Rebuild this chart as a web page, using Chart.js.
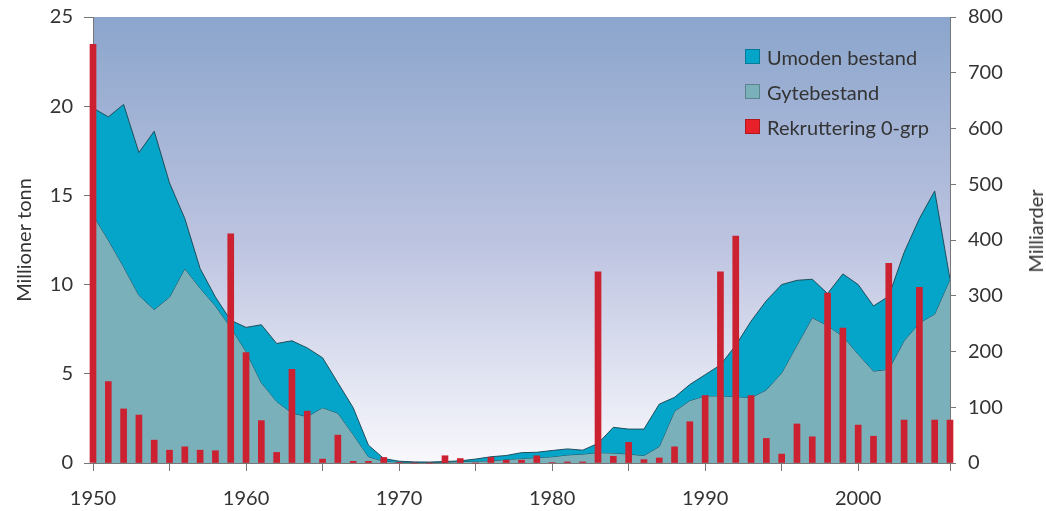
<!DOCTYPE html>
<html lang="no">
<head>
  <meta charset="UTF-8">
  <title>Bestand og rekruttering</title>
  <script src="https://cdn.jsdelivr.net/npm/chart.js"></script>
  <style>
    body { margin: 0; background: #fff; font-family: Lato, sans-serif; }
    #wrap { position: relative; width: 1046px; height: 511px; }
    #legend { position: absolute; left: 745px; top: 39px; color: #333; font-size: 20px; }
    .item { display: flex; align-items: center; height: 35px; }
    .box { width: 15px; height: 15px; margin-right: 7px; box-sizing: border-box; border: 1px solid rgba(0,0,0,0.25); }
    #rightTitle { position: absolute; left: 1035px; top: 231px; color: #333; font-size: 20px;
      transform: translate(-50%, -50%) rotate(-90deg); white-space: nowrap; }
  </style>
</head>
<body>
  <div id="wrap">
    <canvas id="chart" width="1046" height="511"></canvas>
    <div id="legend"></div>
    <div id="rightTitle">Milliarder</div>
  </div>

  <script>
    // år 1950-2006
    const years = [];
    for (let y = 1950; y <= 2006; y++) years.push(y);

    // millioner tonn, øvre kant = gytebestand + umoden bestand
    const totalBestand = [
      19.9, 19.4, 20.1, 17.4, 18.6, 15.7, 13.7, 10.9, 9.3, 8.0,
      7.6, 7.75, 6.7, 6.85, 6.45, 5.9, 4.5, 3.1, 1.0, 0.25,
      0.1, 0.06, 0.05, 0.08, 0.12, 0.22, 0.35, 0.42, 0.58, 0.6,
      0.7, 0.79, 0.72, 1.1, 2.0, 1.9, 1.9, 3.3, 3.68, 4.4,
      4.95, 5.5, 6.6, 7.95, 9.1, 10.0, 10.24, 10.3, 9.5, 10.6,
      10.0, 8.8, 9.35, 11.8, 13.7, 15.25, 10.3
    ];
    const gytebestand = [
      13.9, 12.5, 11.0, 9.4, 8.6, 9.3, 10.9, 9.8, 8.8, 7.6,
      6.25, 4.5, 3.45, 2.8, 2.6, 3.1, 2.8, 1.6, 0.35, 0.1,
      0.05, 0.03, 0.03, 0.05, 0.08, 0.1, 0.12, 0.2, 0.25, 0.3,
      0.35, 0.45, 0.5, 0.58, 0.56, 0.5, 0.42, 0.92, 2.9, 3.5,
      3.76, 3.76, 3.72, 3.66, 4.1, 5.05, 6.6, 8.15, 7.7, 7.1,
      6.1, 5.15, 5.25, 6.85, 7.85, 8.35, 10.3
    ];
    // milliarder individer
    const rekruttering = [
      751, 146, 97, 86, 41, 23, 29, 23, 22, 411,
      198, 76, 19, 168, 93, 7, 50, 3, 3, 10,
      1, 0, 0, 13, 8, 0, 10, 5, 5, 13,
      1, 2, 2, 343, 12, 37, 6, 9, 29, 74,
      121, 343, 407, 121, 44, 16, 70, 47, 305, 242,
      68, 48, 358, 77, 315, 77, 77
    ];

    const colUmoden = '#05a4c9';
    const colGyte = '#7ab0ba';
    const colRekr = '#cc2130';
    const font = { family: 'Lato, sans-serif', size: 20 };

    const pts = arr => years.map((y, i) => ({ x: y, y: arr[i] }));

    const bgPlugin = {
      id: 'bg',
      beforeDraw(chart) {
        const { ctx, chartArea: a } = chart;
        const g = ctx.createLinearGradient(0, a.top, 0, a.bottom);
        g.addColorStop(0, '#8ba5cc');
        g.addColorStop(0.5, '#bcc3e0');
        g.addColorStop(1, '#f8f8fc');
        ctx.save();
        ctx.fillStyle = g;
        ctx.fillRect(a.left, a.top, a.right - a.left, a.bottom - a.top);
        ctx.restore();
      }
    };

    const datasets = [
      { type: 'line', label: 'Gytebestand', data: pts(gytebestand), yAxisID: 'y',
        borderColor: '#1f4f5c', borderWidth: 1, backgroundColor: colGyte,
        fill: 'origin', pointRadius: 0, tension: 0, order: 3 },
      { type: 'line', label: 'Umoden bestand', data: pts(totalBestand), yAxisID: 'y',
        borderColor: '#1f4f5c', borderWidth: 1, backgroundColor: colUmoden,
        fill: '-1', pointRadius: 0, tension: 0, order: 2 },
      { type: 'bar', label: 'Rekruttering 0-grp', data: pts(rekruttering), yAxisID: 'y1',
        backgroundColor: colRekr, barThickness: 6, clip: false, order: 1 }
    ];

    new Chart(document.getElementById('chart'), {
      type: 'line',
      data: { datasets },
      options: {
        responsive: false,
        animation: false,
        layout: { padding: { top: 17, left: 0, right: 0, bottom: 0 } },
        plugins: { legend: { display: false }, tooltip: { enabled: false } },
        scales: {
          x: {
            type: 'linear', min: 1950, max: 2006, offset: false,
            grid: { drawOnChartArea: false, offset: false, tickLength: 8, color: '#777' },
            border: { color: '#777' },
            ticks: {
              stepSize: 5, autoSkip: false, maxRotation: 0, font, color: '#333', padding: 16,
              callback: v => (v % 10 === 0 ? String(v) : '')
            },
            afterFit: s => { s.height = 48; }
          },
          y: {
            position: 'left', min: 0, max: 25,
            grid: { drawOnChartArea: false, tickLength: 9, color: '#777' },
            border: { color: '#777' },
            ticks: { stepSize: 5, font, color: '#333', padding: 11 },
            title: { display: true, text: 'Millioner tonn', font, color: '#333', padding: { top: 13, bottom: 0 } },
            afterFit: s => { s.width = 93; s.paddingTop = 0; s.paddingBottom = 0; }
          },
          y1: {
            position: 'right', min: 0, max: 800,
            grid: { drawOnChartArea: false, tickLength: 6, color: '#777' },
            border: { color: '#777' },
            ticks: { stepSize: 100, font, color: '#333', padding: 12 },
            afterFit: s => { s.width = 96; s.paddingTop = 0; s.paddingBottom = 0; }
          }
        }
      },
      plugins: [bgPlugin]
    });

    // forklaring i samme rekkefølge som originalen
    const legendItems = [
      ['Umoden bestand', colUmoden],
      ['Gytebestand', colGyte],
      ['Rekruttering 0-grp', '#e8202a']
    ];
    document.getElementById('legend').innerHTML = legendItems
      .map(([t, c]) => `<div class="item"><span class="box" style="background:${c}"></span>${t}</div>`)
      .join('');
  </script>
</body>
</html>
